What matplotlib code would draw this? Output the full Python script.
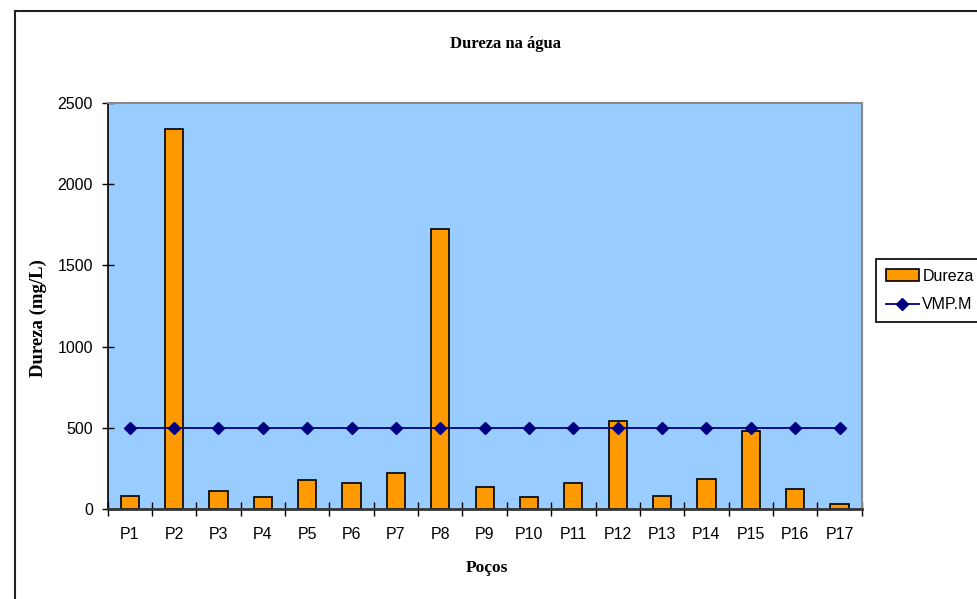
import matplotlib
matplotlib.use("Agg")
import matplotlib.pyplot as plt
import numpy as np
from matplotlib.patches import Rectangle

categories = ["P1", "P2", "P3", "P4", "P5", "P6", "P7", "P8", "P9", "P10",
              "P11", "P12", "P13", "P14", "P15", "P16", "P17"]
dureza = [82, 2341, 109, 72, 178, 160, 223, 1722, 134, 72,
          160, 540, 80, 187, 478, 125, 29]
vmp = [500] * 17
yticks = [0, 500, 1000, 1500, 2000, 2500]

W, H = 977, 599
fig = plt.figure(figsize=(W / 100, H / 100), dpi=100)
fig.patch.set_facecolor("white")

# outer chart border (extends beyond the canvas on right/bottom)
fig.patches.append(Rectangle((15 / W, -0.1), 1.2, 1 - 11 / H + 0.1,
                             transform=fig.transFigure, fill=False,
                             edgecolor="#222222", linewidth=1.5, zorder=0))

L, R, T, B = 107.5, 861.7, 103, 509
ax = fig.add_axes([L / W, 1 - B / H, (R - L) / W, (B - T) / H])
ax.set_facecolor("#99CCFF")

x = np.arange(len(categories))
bars = ax.bar(x, dureza, width=0.41, color="#FF9900", edgecolor="black",
              linewidth=1.2, label="Dureza", zorder=2)
line, = ax.plot(x, vmp, color="#000080", marker="D", markersize=6,
                markerfacecolor="#000080", markeredgecolor="#000080",
                linewidth=1.3, label="VMP.M", zorder=3)

ax.set_xlim(-0.5, len(categories) - 0.5)
ax.set_ylim(0, 2500)
ax.set_yticks(yticks)
ax.set_yticklabels([str(v) for v in yticks], fontfamily="Liberation Sans", fontsize=11.5)
ax.set_xticks(x)
ax.set_xticklabels(categories, fontfamily="Liberation Sans", fontsize=11.5)
ax.set_xticks(np.arange(len(categories) + 1) - 0.5, minor=True)
ax.tick_params(axis="x", which="major", length=0, pad=13)
ax.tick_params(axis="x", which="minor", direction="inout", length=10, width=1, color="black")
ax.tick_params(axis="y", which="major", direction="inout", length=9, width=1, color="black", pad=6)

for s in ["top", "right"]:
    ax.spines[s].set_color("#888888")
    ax.spines[s].set_linewidth(1.5)
ax.spines["left"].set_color("black")
ax.spines["left"].set_linewidth(1.2)
ax.spines["bottom"].set_color("#333333")
ax.spines["bottom"].set_linewidth(2)

fig.text(505 / W, 1 - 44 / H, "Dureza na água", ha="center", va="center",
         fontfamily="Liberation Serif", fontweight="bold", fontsize=12)
fig.text(38 / W, 1 - 318 / H, "Dureza (mg/L)", ha="center", va="center",
         rotation=90, fontfamily="Liberation Serif", fontweight="bold", fontsize=13.5)
fig.text(487 / W, 1 - 568 / H, "Poços", ha="center", va="center",
         fontfamily="Liberation Serif", fontweight="bold", fontsize=12.5)

leg = fig.legend(handles=[bars, line], labels=["Dureza", "VMP.M"],
                 loc="upper left", bbox_to_anchor=(876 / W, 1 - 259 / H),
                 bbox_transform=fig.transFigure, frameon=True, fancybox=False,
                 edgecolor="black", framealpha=1, borderaxespad=0,
                 prop={"family": "Liberation Sans", "size": 11.5},
                 handlelength=2.1, handletextpad=0.2, labelspacing=0.85,
                 borderpad=0.6)
leg.get_frame().set_linewidth(1.2)

fig.savefig("out.png", dpi=100)
